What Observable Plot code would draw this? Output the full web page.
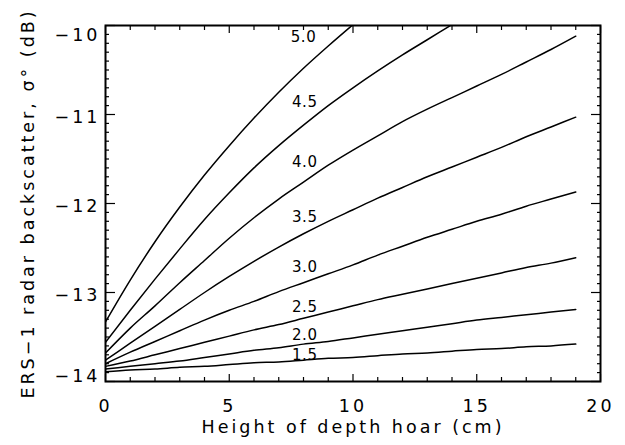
<!DOCTYPE html>
<html>
<head>
<meta charset="utf-8">
<script src="https://cdn.jsdelivr.net/npm/d3@7"></script>
<script src="https://cdn.jsdelivr.net/npm/@observablehq/plot@0.6"></script>
<style>
  body { margin: 0; background: #fff; }
  #chart svg text { letter-spacing: 3px; }
  #chart svg g[font-size="15"] text { letter-spacing: 0.5px; }
</style>
</head>
<body>
<div id="chart"></div>
<script>
// Height of depth hoar (cm)
const hoarHeight = [0, 1, 2, 3, 4, 5, 6, 7, 8, 9, 10, 11, 12, 13, 14, 15, 16, 17, 18, 19];

// ERS-1 backscatter (dB) for each curve label
const curveNames = ["5.0", "4.5", "4.0", "3.5", "3.0", "2.5", "2.0", "1.5"];
const sigma50 = [-13.33, -12.86, -12.43, -12.04, -11.68, -11.35, -11.04, -10.75, -10.48, -10.23, -9.99];
const sigma45 = [-13.56, -13.20, -12.85, -12.51, -12.18, -11.88, -11.60, -11.35, -11.12, -10.90, -10.70, -10.51, -10.33, -10.16, -9.99];
const sigma40 = [-13.68, -13.40, -13.15, -12.89, -12.64, -12.39, -12.16, -11.95, -11.76, -11.57, -11.40, -11.24, -11.08, -10.94, -10.81, -10.68, -10.55, -10.41, -10.27, -10.12];
const sigma35 = [-13.76, -13.57, -13.38, -13.19, -13.00, -12.82, -12.65, -12.49, -12.34, -12.20, -12.07, -11.94, -11.82, -11.70, -11.59, -11.48, -11.37, -11.25, -11.14, -11.03];
const sigma30 = [-13.80, -13.67, -13.55, -13.43, -13.31, -13.20, -13.10, -12.99, -12.89, -12.79, -12.69, -12.58, -12.48, -12.38, -12.29, -12.20, -12.12, -12.03, -11.95, -11.87];
const sigma25 = [-13.83, -13.77, -13.70, -13.63, -13.56, -13.49, -13.42, -13.36, -13.29, -13.22, -13.15, -13.08, -13.02, -12.96, -12.90, -12.84, -12.78, -12.72, -12.67, -12.61];
const sigma20 = [-13.86, -13.83, -13.80, -13.77, -13.73, -13.69, -13.65, -13.62, -13.58, -13.55, -13.51, -13.47, -13.43, -13.39, -13.35, -13.31, -13.28, -13.25, -13.22, -13.19];
const sigma15 = [-13.89, -13.87, -13.86, -13.84, -13.83, -13.81, -13.79, -13.78, -13.76, -13.74, -13.73, -13.71, -13.69, -13.68, -13.66, -13.64, -13.63, -13.61, -13.60, -13.58];

// curve label anchor positions (data units)
const labelX = [8.0, 8.05, 8.05, 8.05, 8.05, 8.05, 8.05, 8.05];
const labelY = [-10.13, -10.86, -11.54, -12.15, -12.72, -13.16, -13.48, -13.70];

// tick values
const xMajorTicks = [0, 5, 10, 15, 20];
const xMinorTicks = [1, 2, 3, 4, 6, 7, 8, 9, 11, 12, 13, 14, 16, 17, 18, 19];
const yMajorTicks = [-14, -13, -12, -11, -10];
const yMinorTicks = d3.range(-140, -100).filter(v => v % 10 !== 0).map(v => v / 10);

const xTitle = "Height of depth hoar (cm)";
const yTitle = "ERS\u22121 radar backscatter, \u03c3\u00b0 (dB)";

const series = [sigma50, sigma45, sigma40, sigma35, sigma30, sigma25, sigma20, sigma15];
const rows = [];
series.forEach((vals, i) => vals.forEach((v, j) => rows.push({h: hoarHeight[j], s: v, rho: curveNames[i]})));
const labels = curveNames.map((n, i) => ({x: labelX[i], y: labelY[i], t: n}));

const fmt = d => (d < 0 ? "\u2212" : "") + Math.abs(d);
const tickStyle = {fill: "none", label: null, strokeWidth: 1.2};

const chart = Plot.plot({
  width: 625,
  height: 445,
  marginLeft: 105,
  marginRight: 25,
  marginTop: 25,
  marginBottom: 64,
  style: {fontFamily: "'DejaVu Sans', sans-serif", fontSize: "17.5px", color: "black", background: "white"},
  x: {domain: [0, 20]},
  y: {domain: [-14, -10]},
  marks: [
    Plot.axisX(xMinorTicks, {anchor: "bottom", tickSize: -4, ...tickStyle}),
    Plot.axisX(xMajorTicks, {anchor: "bottom", tickSize: -7, ...tickStyle}),
    Plot.axisX(xMinorTicks, {anchor: "top", tickSize: -4, ...tickStyle}),
    Plot.axisX(xMajorTicks, {anchor: "top", tickSize: -7, ...tickStyle}),
    Plot.axisY(yMinorTicks, {anchor: "left", tickSize: -4, ...tickStyle}),
    Plot.axisY(yMajorTicks, {anchor: "left", tickSize: -10, ...tickStyle}),
    Plot.axisY(yMinorTicks, {anchor: "right", tickSize: -4, ...tickStyle}),
    Plot.axisY(yMajorTicks, {anchor: "right", tickSize: -10, ...tickStyle}),
    Plot.axisX(xMajorTicks, {anchor: "bottom", tickSize: 0, tickPadding: 18, label: null, tickFormat: fmt}),
    Plot.axisY([-13, -12, -11], {anchor: "left", tickSize: 0, tickPadding: 5, dy: 2.5, label: null, tickFormat: fmt}),
    Plot.axisY([-10], {anchor: "left", tickSize: 0, tickPadding: 5, dy: 10, label: null, tickFormat: fmt}),
    Plot.axisY([-14], {anchor: "left", tickSize: 0, tickPadding: 5, dy: -5.5, label: null, tickFormat: fmt}),
    Plot.frame({stroke: "black", strokeWidth: 2}),
    Plot.line(rows, {x: "h", y: "s", z: "rho", stroke: "black", strokeWidth: 1.5, curve: "monotone-x", clip: true}),
    Plot.text(labels, {x: "x", y: "y", text: "t", fontSize: 15}),
    Plot.text([xTitle], {text: d => d, frameAnchor: "bottom", dy: 51}),
    Plot.text([yTitle], {text: d => d, frameAnchor: "left", textAnchor: "middle", rotate: -90, dx: -77})
  ]
});
document.getElementById("chart").appendChild(chart);
</script>
</body>
</html>
